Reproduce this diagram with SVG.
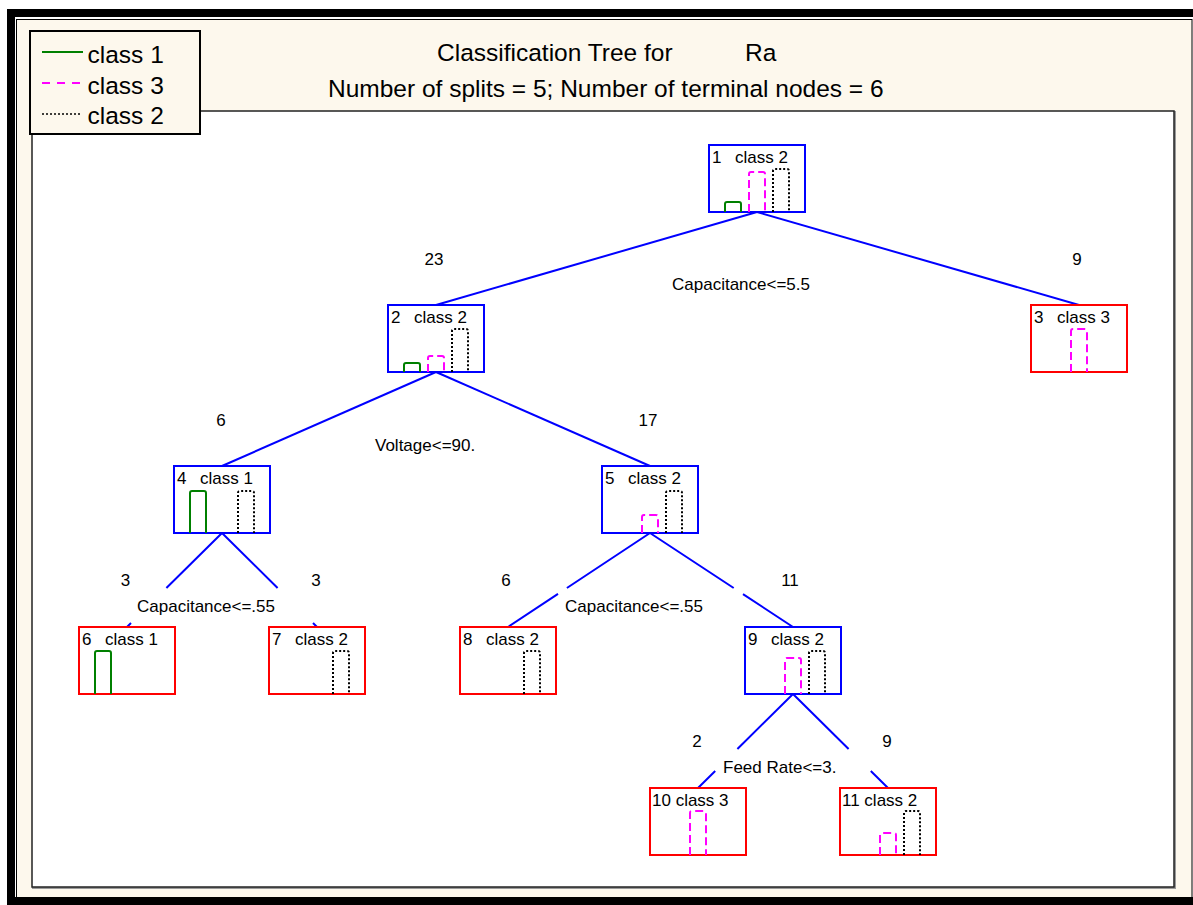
<svg xmlns="http://www.w3.org/2000/svg" width="1193" height="905" viewBox="0 0 1193 905">
  <style>
    text { font-family: "Liberation Sans", Arial, sans-serif; fill: #000; }
    .big { font-size: 24.5px; }
    .small { font-size: 17px; }
    .num { font-size: 17px; text-anchor: middle; }
    .inner { fill: none; stroke: #0000ff; stroke-width: 2; }
    .term { fill: none; stroke: #ff0000; stroke-width: 2; }
    .edge { fill: none; stroke: #0000ff; stroke-width: 2; }
    .c1 { fill: none; stroke: #008000; stroke-width: 2; }
    .c3 { fill: none; stroke: #ff00ff; stroke-width: 2; stroke-dasharray: 8 4; }
    .c2 { fill: none; stroke: #000; stroke-width: 2; stroke-dasharray: 2 2; }
  </style>

  <!-- page frame -->
  <rect x="0" y="0" width="1193" height="905" fill="#ffffff"/>
  <rect x="11" y="13" width="1190" height="888" fill="none" stroke="#000" stroke-width="8"/>
  <rect x="16.5" y="19.5" width="1175.5" height="878" fill="#fdf8ed" stroke="#000" stroke-width="1"/>

  <!-- plot area -->
  <rect x="33" y="112" width="1142" height="776" fill="none" stroke="#9a9a9a" stroke-width="2"/>
  <rect x="32" y="111" width="1142" height="776" fill="#ffffff" stroke="#222" stroke-width="1.5"/>

  <!-- legend -->
  <g id="legend">
    <rect x="30" y="31" width="170" height="103" fill="#fdf8ed" stroke="#000" stroke-width="2"/>
    <line x1="42" y1="52" x2="83" y2="52" stroke="#008000" stroke-width="2"/>
    <text class="big" x="87.5" y="62.5">class 1</text>
    <line x1="42" y1="83" x2="82" y2="83" stroke="#ff00ff" stroke-width="2" stroke-dasharray="8 7"/>
    <text class="big" x="87.5" y="93.5">class 3</text>
    <line x1="42" y1="114" x2="80" y2="114" stroke="#000" stroke-width="1.5" stroke-dasharray="2 2"/>
    <text class="big" x="87.5" y="124">class 2</text>
  </g>

  <!-- title -->
  <g id="title">
    <text class="big" x="437" y="61">Classification Tree for</text>
    <text class="big" x="745" y="61">Ra</text>
    <text class="big" x="328" y="97">Number of splits = 5; Number of terminal nodes = 6</text>
  </g>

  <!-- connectors -->
  <g id="connectors">
    <path class="edge" d="M757,212 L436,305"/>
    <path class="edge" d="M757,212 L1079,305"/>
    <path class="edge" d="M436,372 L222,466"/>
    <path class="edge" d="M436,372 L650,466"/>
    <path class="edge" d="M222,533 L166.4,588 M131,623 L127,627"/>
    <path class="edge" d="M222,533 L277.6,588 M313,623 L317,627"/>
    <path class="edge" d="M650,533 L566.9,588 M558,593.9 L508,627"/>
    <path class="edge" d="M650,533 L733.7,588 M743,594.1 L793,627"/>
    <path class="edge" d="M793,694 L737.4,749 M715.2,771 L698,788"/>
    <path class="edge" d="M793,694 L848.6,749 M870.8,771 L888,788"/>
  </g>

  <!-- branch sizes and split rules -->
  <g id="edge-labels">
    <text class="num" x="434" y="265">23</text>
    <text class="num" x="1077" y="265">9</text>
    <text class="small" x="672" y="290">Capacitance&lt;=5.5</text>
    <text class="num" x="221" y="426">6</text>
    <text class="num" x="648" y="426">17</text>
    <text class="small" x="375" y="451">Voltage&lt;=90.</text>
    <text class="num" x="125.5" y="586">3</text>
    <text class="num" x="316" y="586">3</text>
    <text class="num" x="506" y="586">6</text>
    <text class="num" x="790" y="586">11</text>
    <text class="small" x="137" y="612">Capacitance&lt;=.55</text>
    <text class="small" x="565" y="612">Capacitance&lt;=.55</text>
    <text class="num" x="697" y="747">2</text>
    <text class="num" x="887" y="747">9</text>
    <text class="small" x="723" y="773">Feed Rate&lt;=3.</text>
  </g>

  <!-- nodes: box, label, class bars (class 1 / class 3 / class 2) -->
  <g id="node1">
    <rect class="inner" x="709" y="145" width="96" height="67"/>
    <text class="small" x="712" y="163">1</text>
    <text class="small" x="735" y="163">class 2</text>
    <path class="c1" d="M725,212 V204 Q725,202 727,202 H739 Q741,202 741,204 V212"/>
    <path class="c3" d="M749,212 V174 Q749,172 751,172 H763 Q765,172 765,174 V212"/>
    <path class="c2" d="M773,212 V171 Q773,169 775,169 H787 Q789,169 789,171 V212"/>
  </g>

  <g id="node2">
    <rect class="inner" x="388" y="305" width="96" height="67"/>
    <text class="small" x="391" y="323">2</text>
    <text class="small" x="414" y="323">class 2</text>
    <path class="c1" d="M404,372 V365 Q404,363 406,363 H418 Q420,363 420,365 V372"/>
    <path class="c3" d="M428,372 V358 Q428,356 430,356 H442 Q444,356 444,358 V372"/>
    <path class="c2" d="M452,372 V331 Q452,329 454,329 H466 Q468,329 468,331 V372"/>
  </g>

  <g id="node3">
    <rect class="term" x="1031" y="305" width="96" height="67"/>
    <text class="small" x="1034" y="323">3</text>
    <text class="small" x="1057" y="323">class 3</text>
    <path class="c3" d="M1071,372 V331 Q1071,329 1073,329 H1085 Q1087,329 1087,331 V372"/>
  </g>

  <g id="node4">
    <rect class="inner" x="174" y="466" width="96" height="67"/>
    <text class="small" x="177" y="484">4</text>
    <text class="small" x="200" y="484">class 1</text>
    <path class="c1" d="M190,533 V493 Q190,491 192,491 H204 Q206,491 206,493 V533"/>
    <path class="c2" d="M238,533 V493 Q238,491 240,491 H252 Q254,491 254,493 V533"/>
  </g>

  <g id="node5">
    <rect class="inner" x="602" y="466" width="96" height="67"/>
    <text class="small" x="605" y="484">5</text>
    <text class="small" x="628" y="484">class 2</text>
    <path class="c3" d="M642,533 V517 Q642,515 644,515 H656 Q658,515 658,517 V533"/>
    <path class="c2" d="M666,533 V493 Q666,491 668,491 H680 Q682,491 682,493 V533"/>
  </g>

  <g id="node6">
    <rect class="term" x="79" y="627" width="96" height="67"/>
    <text class="small" x="82" y="645">6</text>
    <text class="small" x="105" y="645">class 1</text>
    <path class="c1" d="M95,694 V653 Q95,651 97,651 H109 Q111,651 111,653 V694"/>
  </g>

  <g id="node7">
    <rect class="term" x="269" y="627" width="96" height="67"/>
    <text class="small" x="272" y="645">7</text>
    <text class="small" x="295" y="645">class 2</text>
    <path class="c2" d="M333,694 V653 Q333,651 335,651 H347 Q349,651 349,653 V694"/>
  </g>

  <g id="node8">
    <rect class="term" x="460" y="627" width="96" height="67"/>
    <text class="small" x="463" y="645">8</text>
    <text class="small" x="486" y="645">class 2</text>
    <path class="c2" d="M524,694 V653 Q524,651 526,651 H538 Q540,651 540,653 V694"/>
  </g>

  <g id="node9">
    <rect class="inner" x="745" y="627" width="96" height="67"/>
    <text class="small" x="748" y="645">9</text>
    <text class="small" x="771" y="645">class 2</text>
    <path class="c3" d="M785,694 V660 Q785,658 787,658 H799 Q801,658 801,660 V694"/>
    <path class="c2" d="M809,694 V653 Q809,651 811,651 H823 Q825,651 825,653 V694"/>
  </g>

  <g id="node10">
    <rect class="term" x="650" y="788" width="96" height="67"/>
    <text class="small" x="652" y="806">10 class 3</text>
    <path class="c3" d="M690,855 V813 Q690,811 692,811 H704 Q706,811 706,813 V855"/>
  </g>

  <g id="node11">
    <rect class="term" x="840" y="788" width="96" height="67"/>
    <text class="small" x="842" y="806">11 class 2</text>
    <path class="c3" d="M880,855 V835 Q880,833 882,833 H894 Q896,833 896,835 V855"/>
    <path class="c2" d="M904,855 V813 Q904,811 906,811 H918 Q920,811 920,813 V855"/>
  </g>
</svg>
